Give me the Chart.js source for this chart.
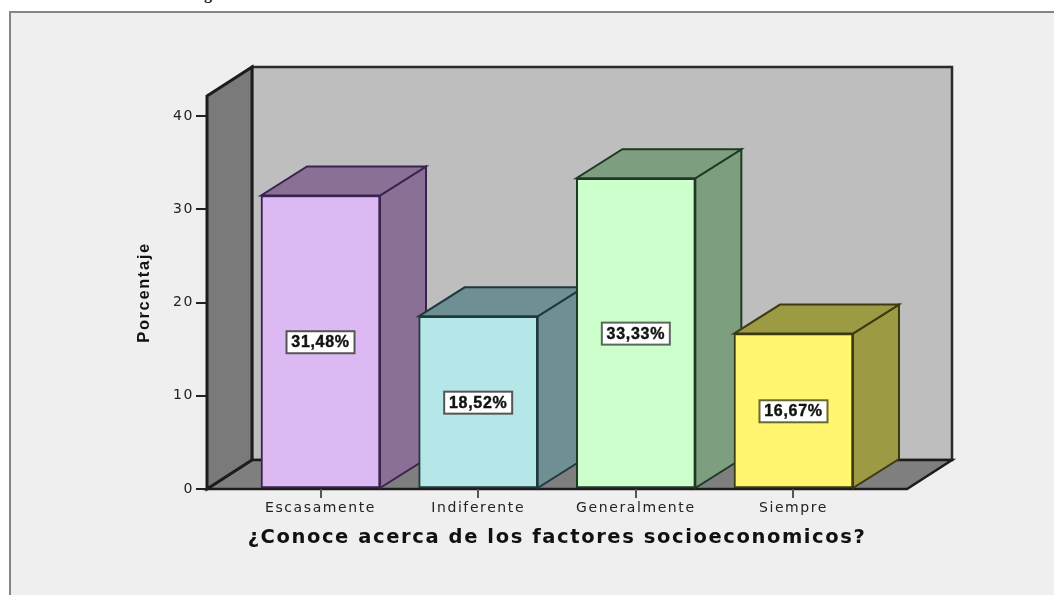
<!DOCTYPE html>
<html><head><meta charset="utf-8">
<style>
html,body{margin:0;padding:0;background:#fff;width:1054px;height:595px;overflow:hidden}
#frame{position:absolute;left:9px;top:11px;right:0;bottom:0;background:#efefef;border-left:2px solid #858585;border-top:2px solid #858585}
#cut{position:absolute;left:204px;top:-15px;font:bold 16px "Liberation Serif";color:#222}
canvas{position:absolute;left:0;top:0}
</style>
<script src="https://cdn.jsdelivr.net/npm/chart.js@4"></script>
</head><body>
<div id="cut">g</div>
<div id="frame"></div>
<canvas id="c" width="1054" height="595"></canvas>
<script>
const categories = ["Escasamente","Indiferente","Generalmente","Siempre"];
const values = [31.48,18.52,33.33,16.67];
const valueLabels = ["31,48%","18,52%","33,33%","16,67%"];
const yTicks = [0,10,20,30,40];
const xTitle = "¿Conoce acerca de los factores socioeconomicos?";
const yTitle = "Porcentaje";
const frontColors = ["#dcb9f2","#b5e6e8","#ccffcc","#fff56e"];
const sideColors = ["#8a7095","#6e8f94","#7e9f7f","#9c9a42"];
const edgeColors = ["#3a2350","#20393c","#1f3a24","#3c3a10"];
const boxEdgeColors = ["#555","#555","#5a6a5a","#6a6a30"];

const WALL_DX=45, WALL_DY=-29, BAR_DX=46, BAR_DY=-29;

function poly(ctx,pts,fill,stroke,w){
  ctx.beginPath();
  pts.forEach((p,i)=>i?ctx.lineTo(p[0],p[1]):ctx.moveTo(p[0],p[1]));
  ctx.closePath();
  ctx.fillStyle=fill;ctx.fill();
  ctx.strokeStyle=stroke;ctx.lineWidth=w;ctx.lineJoin='miter';ctx.stroke();
}
const plugin3d={
  id:'bars3d',
  beforeDraw(chart){
    const ctx=chart.ctx,a=chart.chartArea;
    const l=a.left,r=a.right,t=a.top,b=a.bottom;
    ctx.letterSpacing='1.6px';
    poly(ctx,[[l+WALL_DX,t+WALL_DY],[r+WALL_DX,t+WALL_DY],[r+WALL_DX,b+WALL_DY],[l+WALL_DX,b+WALL_DY]],'#bebebe','#2a2a2a',2.5);
    poly(ctx,[[l,b],[r,b],[r+WALL_DX,b+WALL_DY],[l+WALL_DX,b+WALL_DY]],'#7f7f7f','#1c1c1c',2.5);
    poly(ctx,[[l,t],[l+WALL_DX,t+WALL_DY],[l+WALL_DX,b+WALL_DY],[l,b]],'#7a7a7a','#1c1c1c',3);
  },
  beforeDatasetsDraw(chart){
    const ctx=chart.ctx,els=chart.getDatasetMeta(0).data;
    els.forEach((el,i)=>{
      const p=el.getProps(['x','y','base','width'],true);
      const L=p.x-p.width/2,R=p.x+p.width/2,T=p.y,B=p.base;
      poly(ctx,[[R,T],[R+BAR_DX,T+BAR_DY],[R+BAR_DX,B+BAR_DY],[R,B]],sideColors[i],edgeColors[i],2);
      poly(ctx,[[L,T],[L+BAR_DX,T+BAR_DY],[R+BAR_DX,T+BAR_DY],[R,T]],sideColors[i],edgeColors[i],2);
    });
  },
  afterDatasetsDraw(chart){
    const ctx=chart.ctx,els=chart.getDatasetMeta(0).data,y=chart.scales.y;
    els.forEach((el,i)=>{
      const p=el.getProps(['x'],true);
      const cy=y.getPixelForValue(values[i]/2);
      ctx.save();
      ctx.fillStyle='#fff';ctx.strokeStyle=boxEdgeColors[i];ctx.lineWidth=2;
      ctx.fillRect(p.x-34,cy-11,68,22);ctx.strokeRect(p.x-34,cy-11,68,22);
      ctx.letterSpacing='0.7px';
      ctx.font='bold 16px "Liberation Sans"';ctx.fillStyle='#111';ctx.textAlign='center';ctx.textBaseline='middle';
      ctx.strokeStyle='#111';ctx.lineWidth=0.4;
      ctx.strokeText(valueLabels[i],p.x,cy+0.5);
      ctx.fillText(valueLabels[i],p.x,cy+0.5);
      ctx.restore();
    });
  }
};

new Chart(document.getElementById('c'),{
  type:'bar',
  data:{labels:categories,datasets:[{
    data:values.map((v,i)=>({x:i,y:v})),
    backgroundColor:frontColors,borderColor:edgeColors,borderWidth:2,borderSkipped:false,barThickness:119
  }]},
  plugins:[plugin3d],
  options:{
    responsive:false,animation:false,
    layout:{padding:{top:96,right:147,left:0,bottom:0}},
    plugins:{legend:{display:false},tooltip:{enabled:false},title:{display:false}},
    scales:{
      x:{type:'linear',offset:false,min:-0.72,max:3.72,
        afterBuildTicks(s){s.ticks=categories.map((c,i)=>({value:i}));},
        afterFit(s){s.height=106;},
        grid:{offset:false,drawOnChartArea:false,drawTicks:true,tickLength:9,color:'#555',lineWidth:2},
        border:{display:false},
        ticks:{autoSkip:false,maxRotation:0,padding:2,color:'#222',font:{family:'"DejaVu Sans"',size:14},
          callback:(v)=>categories[v]},
        title:{display:true,text:xTitle,color:'#111',font:{family:'"DejaVu Sans"',weight:'bold',size:19.5},padding:{top:6,bottom:45}}
      },
      y:{min:0,max:42.15,
        afterBuildTicks(s){s.ticks=yTicks.map(v=>({value:v}));},
        afterFit(s){s.width=207;},
        grid:{drawOnChartArea:false,drawTicks:true,tickLength:11,color:'#222',lineWidth:2},
        border:{display:false},
        ticks:{padding:2,color:'#222',font:{family:'"DejaVu Sans"',size:14}},
        title:{display:true,text:yTitle,color:'#111',font:{family:'"Liberation Sans"',weight:'bold',size:16.5},padding:{top:135,bottom:0}}
      }
    }
  }
});
</script>
</body></html>
